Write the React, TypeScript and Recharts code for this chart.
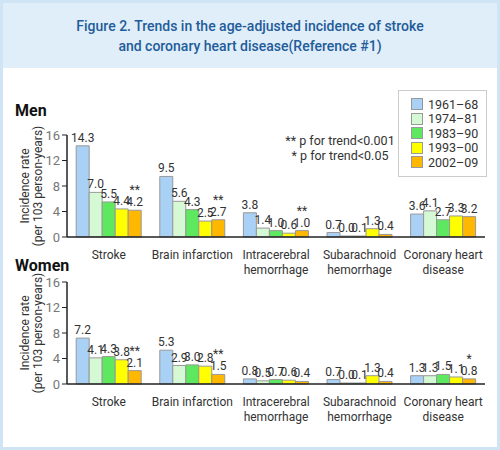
import { BarChart, Bar, XAxis, YAxis, LabelList } from 'recharts';

const categories = ['Stroke', 'Brain infarction', 'Intracerebral\nhemorrhage', 'Subarachnoid\nhemorrhage', 'Coronary heart\ndisease'];
const periods = ['1961–68', '1974–81', '1983–90', '1993–00', '2002–09'];
const colors = ['#a9d0f5', '#d5f8d5', '#5ee860', '#ffff00', '#ffb700'];
const yTicks = [0, 4, 8, 12, 16];

const men6168 = [14.3, 9.5, 3.8, 0.7, 3.6];
const men7481 = [7.0, 5.6, 1.4, 0.0, 4.1];
const men8390 = [5.5, 4.3, 1.0, 0.1, 2.7];
const men9300 = [4.4, 2.5, 0.6, 1.3, 3.3];
const men0209 = [4.2, 2.7, 1.0, 0.4, 3.2];
const menStars = ['**', '**', '**', '', ''];

const women6168 = [7.2, 5.3, 0.8, 0.7, 1.3];
const women7481 = [4.1, 2.9, 0.5, 0.0, 1.3];
const women8390 = [4.3, 3.0, 0.7, 0.1, 1.5];
const women9300 = [3.8, 2.8, 0.6, 1.3, 1.1];
const women0209 = [2.1, 1.5, 0.4, 0.4, 0.8];
const womenStars = ['**', '**', '', '', '*'];

const font = 'Roboto, "Noto Sans", sans-serif';

function buildRows(series: number[][], stars: string[]) {
  return categories.map((name, i) => ({
    name,
    p0: series[0][i],
    p1: series[1][i],
    p2: series[2][i],
    p3: series[3][i],
    p4: series[4][i],
    star: stars[i],
  }));
}

const menRows = buildRows([men6168, men7481, men8390, men9300, men0209], menStars);
const womenRows = buildRows([women6168, women7481, women8390, women9300, women0209], womenStars);

function CategoryTick(props: any) {
  const { x, y, payload } = props;
  const lines = String(payload.value).split('\n');
  return (
    <g>
      {lines.map((l, i) => (
        <text key={i} x={x} y={y + 14 + i * 15} textAnchor="middle" fontSize={12} fill="#333" fontFamily={font}>
          {l}
        </text>
      ))}
    </g>
  );
}

function YTitle(props: any) {
  const { viewBox } = props;
  const cy = viewBox.y + viewBox.height / 2;
  return (
    <g fontFamily={font} fontSize={12} fill="#333" textAnchor="middle">
      <text transform={`translate(26, ${cy}) rotate(-90)`}>Incidence rate</text>
      <text transform={`translate(39, ${cy}) rotate(-90)`}>(per 103 person-years)</text>
    </g>
  );
}

function Panel({ rows, top }: { rows: any[]; top: number }) {
  const renderLabel = (props: any) => {
    const { x, y, width, height, value, index } = props;
    const cx = x + width / 2;
    const topY = Math.min(y, y + height);
    const star = props.withStar ? rows[index].star : '';
    return (
      <g fontFamily={font} fontSize={12} fill="#333" textAnchor="middle">
        <text x={cx} y={topY - 4}>{Number(value).toFixed(1)}</text>
        {star ? <text x={cx} y={topY - 16}>{star}</text> : null}
      </g>
    );
  };
  return (
    <div style={{ position: 'absolute', left: 0, top }}>
      <BarChart
        width={500}
        height={160}
        data={rows}
        margin={{ top: 15, right: 18, left: 0, bottom: 0 }}
        barCategoryGap="11%"
        barGap={0}
      >
        <XAxis
          dataKey="name"
          interval={0}
          tickLine={false}
          axisLine={{ stroke: '#222', strokeWidth: 1.5 }}
          tick={<CategoryTick />}
          height={43}
        />
        <YAxis
          domain={[0, 16]}
          ticks={yTicks}
          width={64}
          tick={{ fontSize: 13, fill: '#777', fontFamily: font }}
          tickSize={5}
          tickLine={{ stroke: '#222' }}
          axisLine={{ stroke: '#222', strokeWidth: 1.5 }}
          label={<YTitle />}
        />
        {periods.map((p, i) => (
          <Bar
            key={p}
            dataKey={`p${i}`}
            fill={colors[i]}
            stroke="#999"
            strokeWidth={1}
            minPointSize={1}
            isAnimationActive={false}
          >
            <LabelList dataKey={`p${i}`} content={(lp: any) => renderLabel({ ...lp, withStar: i === 4 })} />
          </Bar>
        ))}
      </BarChart>
    </div>
  );
}

export default function App() {
  return (
    <div
      style={{
        position: 'absolute',
        left: 0,
        top: 0,
        width: 500,
        height: 450,
        boxSizing: 'border-box',
        border: '3px solid #cfe4f5',
        background: '#fff',
        fontFamily: font,
        overflow: 'hidden',
      }}
    >
      <div
        style={{
          position: 'absolute',
          left: 0,
          top: 0,
          width: 494,
          height: 65,
          background: '#e0eef9',
          color: '#1f5c99',
          fontSize: 14,
          fontWeight: 500,
          textAlign: 'center',
          lineHeight: '20px',
          paddingTop: 13,
          boxSizing: 'border-box',
        }}
      >
        Figure 2. Trends in the age-adjusted incidence of stroke
        <br />
        and coronary heart disease(Reference #1)
      </div>

      <Panel rows={menRows} top={117} />
      <Panel rows={womenRows} top={264} />

      <div style={{ position: 'absolute', left: 12, top: 98, fontSize: 16, fontWeight: 700, color: '#111' }}>Men</div>
      <div style={{ position: 'absolute', left: 12, top: 253, fontSize: 16, fontWeight: 700, color: '#111' }}>Women</div>

      <div style={{ position: 'absolute', left: 237, top: 130, width: 200, textAlign: 'center', fontSize: 12.5, color: '#333', lineHeight: '15px' }}>
        ** p for trend&lt;0.001
        <br />* p for trend&lt;0.05
      </div>

      <div
        style={{
          position: 'absolute',
          left: 395,
          top: 87,
          width: 89,
          height: 87,
          border: '1px solid #ccc',
          background: '#fff',
          boxSizing: 'border-box',
          paddingTop: 6,
        }}
      >
        {periods.map((p, i) => (
          <div key={p} style={{ display: 'flex', alignItems: 'center', height: 14.5, paddingLeft: 12 }}>
            <span style={{ width: 10, height: 10, background: colors[i], border: '1px solid #999', marginRight: 5 }} />
            <span style={{ fontSize: 12.5, color: '#333' }}>{p}</span>
          </div>
        ))}
      </div>
    </div>
  );
}
